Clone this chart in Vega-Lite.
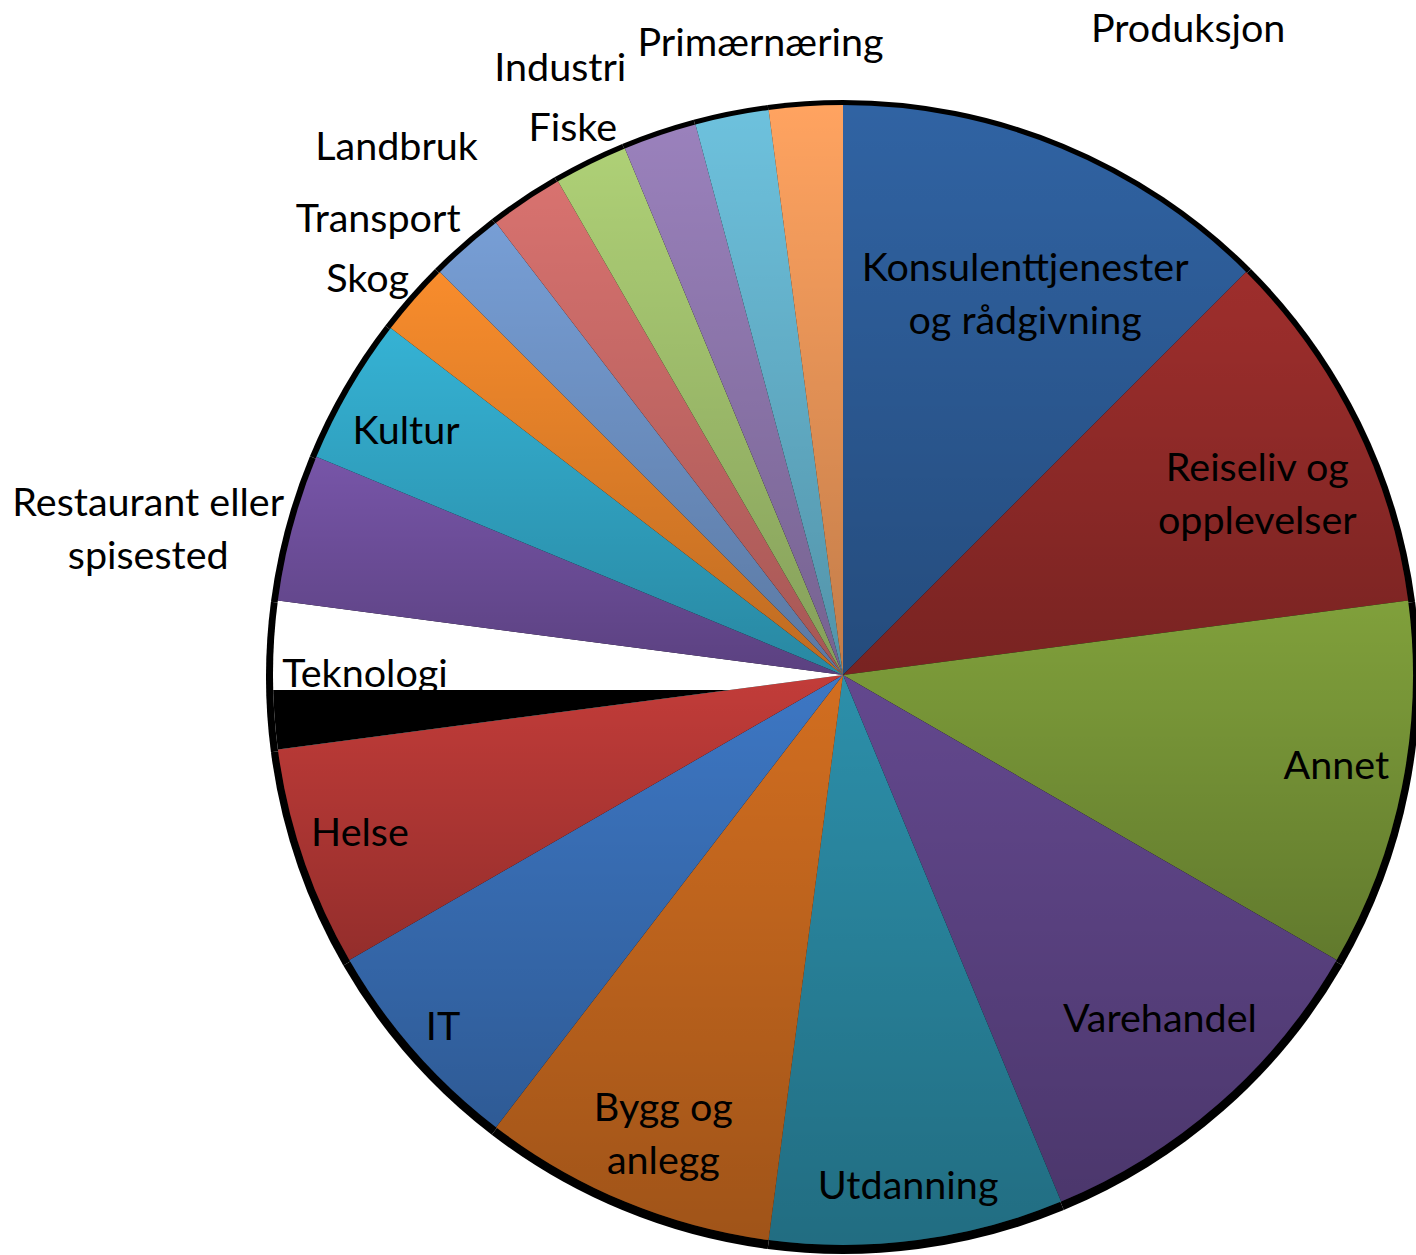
{
  "$schema": "https://vega.github.io/schema/vega-lite/v6.json",
  "width": 1146,
  "height": 1160,
  "padding": {"left": 270, "top": 95, "right": 0, "bottom": 0},
  "autosize": {"type": "none"},
  "background": "white",
  "config": {"view": {"stroke": null}, "text": {"font": "Lato", "fontSize": 39.5, "lineHeight": 53, "lineBreak": "\n", "color": "black"}},
  "data": {"values": [
    {"idx": 1, "name": "Konsulenttjenester og rådgivning", "label": "Konsulenttjenester\nog rådgivning", "value": 6},
    {"idx": 2, "name": "Reiseliv og opplevelser", "label": "Reiseliv og\nopplevelser", "value": 5},
    {"idx": 3, "name": "Annet", "label": "Annet", "value": 5},
    {"idx": 4, "name": "Varehandel", "label": "Varehandel", "value": 5},
    {"idx": 5, "name": "Utdanning", "label": "Utdanning", "value": 4},
    {"idx": 6, "name": "Bygg og anlegg", "label": "Bygg og\nanlegg", "value": 4},
    {"idx": 7, "name": "IT", "label": "IT", "value": 3},
    {"idx": 8, "name": "Helse", "label": "Helse", "value": 3},
    {"idx": 9, "name": "Teknologi", "label": "Teknologi", "value": 2},
    {"idx": 10, "name": "Restaurant eller spisested", "label": "Restaurant eller\nspisested", "value": 2},
    {"idx": 11, "name": "Kultur", "label": "Kultur", "value": 2},
    {"idx": 12, "name": "Skog", "label": "Skog", "value": 1},
    {"idx": 13, "name": "Transport", "label": "Transport", "value": 1},
    {"idx": 14, "name": "Landbruk", "label": "Landbruk", "value": 1},
    {"idx": 15, "name": "Fiske", "label": "Fiske", "value": 1},
    {"idx": 16, "name": "Industri", "label": "Industri", "value": 1},
    {"idx": 17, "name": "Primærnæring", "label": "Primærnæring", "value": 1},
    {"idx": 18, "name": "Produksjon", "label": "Produksjon", "value": 1}
  ]},
  "encoding": {
    "theta": {"field": "value", "type": "quantitative", "stack": true},
    "order": {"field": "idx", "type": "quantitative"}
  },
  "layer": [
    {"mark": {"type": "arc", "outerRadius": 577, "yOffset": 2, "color": "black"}},
    {"mark": {"type": "arc", "outerRadius": 570},
     "encoding": {"color": {"field": "name", "type": "nominal", "legend": null,
       "scale": {"domain": ["Konsulenttjenester og rådgivning", "Reiseliv og opplevelser", "Annet", "Varehandel", "Utdanning", "Bygg og anlegg", "IT", "Helse", "Teknologi", "Restaurant eller spisested", "Kultur", "Skog", "Transport", "Landbruk", "Fiske", "Industri", "Primærnæring", "Produksjon"],
                 "range": ["#3063A3", "#9E2E2C", "#80A03B", "#63488E", "#2C8FAA", "#D26E20", "#3D77C4", "#C23C39", "#FFFFFF", "#7755A8", "#35B2D4", "#F88C2C", "#779ED5", "#D8726F", "#AED076", "#9A81BC", "#6DC1DD", "#FFA360"]}}}},
    {"mark": {"type": "text", "radius": 478},
     "encoding": {"text": {"condition": {"test": "datum.name === 'Teknologi'", "field": "label", "type": "nominal"}, "value": ""}}},
    {"mark": {"type": "arc", "outerRadius": 570},
     "encoding": {"fill": {
       "condition": {"test": "datum.name === 'Teknologi'", "value": {"gradient": "linear", "x1": 0, "y1": 0, "x2": 0, "y2": 1, "stops": [{"offset": 0, "color": "rgba(0,0,0,0)"}, {"offset": 0.6, "color": "rgba(0,0,0,0)"}, {"offset": 0.6, "color": "#000000"}, {"offset": 1, "color": "#000000"}]}},
       "value": {"gradient": "linear", "x1": 0, "y1": 0, "x2": 0, "y2": 1, "stops": [{"offset": 0, "color": "rgba(0,0,0,0)"}, {"offset": 1, "color": "rgba(0,0,0,0.24)"}]}}}},
    {"mark": {"type": "text", "radius": 421, "dx": 21, "dy": -17},
     "encoding": {"text": {"condition": {"test": "datum.name === 'Konsulenttjenester og rådgivning'", "field": "label", "type": "nominal"}, "value": ""}}},
    {"mark": {"type": "text", "radius": 453, "dx": 8, "dy": -6},
     "encoding": {"text": {"condition": {"test": "datum.name === 'Reiseliv og opplevelser'", "field": "label", "type": "nominal"}, "value": ""}}},
    {"mark": {"type": "text", "radius": 501, "dx": 2, "dy": -6},
     "encoding": {"text": {"condition": {"test": "datum.name === 'Annet'", "field": "label", "type": "nominal"}, "value": ""}}},
    {"mark": {"type": "text", "radius": 467, "dx": 9, "dy": -6},
     "encoding": {"text": {"condition": {"test": "datum.name === 'Varehandel'", "field": "label", "type": "nominal"}, "value": ""}}},
    {"mark": {"type": "text", "radius": 514, "dx": -2, "dy": 2},
     "encoding": {"text": {"condition": {"test": "datum.name === 'Utdanning'", "field": "label", "type": "nominal"}, "value": ""}}},
    {"mark": {"type": "text", "radius": 493, "dx": 9, "dy": -21},
     "encoding": {"text": {"condition": {"test": "datum.name === 'Bygg og anlegg'", "field": "label", "type": "nominal"}, "value": ""}}},
    {"mark": {"type": "text", "radius": 532, "dy": 2},
     "encoding": {"text": {"condition": {"test": "datum.name === 'IT'", "field": "label", "type": "nominal"}, "value": ""}}},
    {"mark": {"type": "text", "radius": 508, "dx": -2, "dy": -4},
     "encoding": {"text": {"condition": {"test": "datum.name === 'Helse'", "field": "label", "type": "nominal"}, "value": ""}}},
    {"mark": {"type": "text", "radius": 710, "dx": -9, "dy": 13},
     "encoding": {"text": {"condition": {"test": "datum.name === 'Restaurant eller spisested'", "field": "label", "type": "nominal"}, "value": ""}}},
    {"mark": {"type": "text", "radius": 501, "dx": -3, "dy": 7},
     "encoding": {"text": {"condition": {"test": "datum.name === 'Kultur'", "field": "label", "type": "nominal"}, "value": ""}}},
    {"mark": {"type": "text", "radius": 619, "dx": -10, "dy": 13},
     "encoding": {"text": {"condition": {"test": "datum.name === 'Skog'", "field": "label", "type": "nominal"}, "value": ""}}},
    {"mark": {"type": "text", "radius": 652, "dx": -35, "dy": 35},
     "encoding": {"text": {"condition": {"test": "datum.name === 'Transport'", "field": "label", "type": "nominal"}, "value": ""}}},
    {"mark": {"type": "text", "radius": 692, "dx": -62, "dy": 48},
     "encoding": {"text": {"condition": {"test": "datum.name === 'Landbruk'", "field": "label", "type": "nominal"}, "value": ""}}},
    {"mark": {"type": "text", "radius": 611, "dy": 2},
     "encoding": {"text": {"condition": {"test": "datum.name === 'Fiske'", "field": "label", "type": "nominal"}, "value": ""}}},
    {"mark": {"type": "text", "radius": 671, "dx": -67, "dy": 29},
     "encoding": {"text": {"condition": {"test": "datum.name === 'Industri'", "field": "label", "type": "nominal"}, "value": ""}}},
    {"mark": {"type": "text", "radius": 638, "dx": 42, "dy": -5},
     "encoding": {"text": {"condition": {"test": "datum.name === 'Primærnæring'", "field": "label", "type": "nominal"}, "value": ""}}},
    {"mark": {"type": "text", "radius": 640, "dx": 387, "dy": -6},
     "encoding": {"text": {"condition": {"test": "datum.name === 'Produksjon'", "field": "label", "type": "nominal"}, "value": ""}}}
  ]
}
